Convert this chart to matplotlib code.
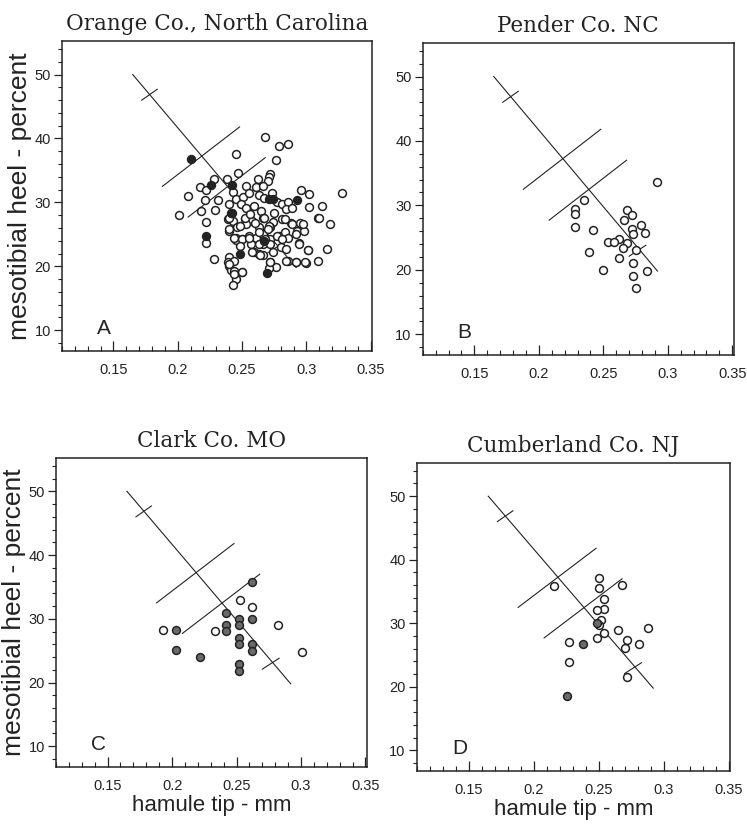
import matplotlib
matplotlib.use("Agg")
import matplotlib.pyplot as plt
from matplotlib.ticker import MultipleLocator

# ------------------------------------------------------------------
# Data (hamule tip in mm, mesotibial heel in percent)
# ------------------------------------------------------------------
# discriminant template drawn in every panel
main_line_x = [0.165, 0.292]
main_line_y = [50.0, 19.8]
cut1_x = [0.188, 0.248]
cut1_y = [32.5, 41.8]
cut2_x = [0.208, 0.268]
cut2_y = [27.7, 37.0]
tick_top_x = [0.172, 0.184]
tick_top_y = [46.0, 47.7]
tick_bot_x = [0.270, 0.283]
tick_bot_y = [22.1, 23.8]

# A: Orange Co., North Carolina
a_open_x = [0.268, 0.279, 0.286, 0.245, 0.276, 0.247, 0.228, 0.238, 0.272, 0.271,
            0.270, 0.262, 0.253, 0.217, 0.222, 0.261, 0.266, 0.208, 0.221, 0.231,
            0.243, 0.245, 0.251, 0.255, 0.263, 0.267, 0.273, 0.277, 0.281, 0.286,
            0.296, 0.302, 0.328, 0.201, 0.218, 0.229, 0.240, 0.249, 0.253, 0.259,
            0.265, 0.275, 0.284, 0.289, 0.302, 0.312, 0.309, 0.222, 0.239, 0.243,
            0.252, 0.258, 0.266, 0.274, 0.281, 0.288, 0.295, 0.318, 0.246, 0.253,
            0.263, 0.272, 0.222, 0.240, 0.245, 0.250, 0.255, 0.261, 0.266, 0.272,
            0.279, 0.283, 0.286, 0.293, 0.298, 0.294, 0.245, 0.257, 0.266, 0.272,
            0.280, 0.284, 0.274, 0.259, 0.263, 0.240, 0.301, 0.316, 0.266, 0.228,
            0.239, 0.244, 0.286, 0.292, 0.300, 0.309, 0.272, 0.276, 0.271, 0.240,
            0.241, 0.250, 0.244, 0.245, 0.243, 0.240, 0.241, 0.248, 0.252, 0.240,
            0.244, 0.250, 0.255, 0.263, 0.268, 0.277, 0.281, 0.263, 0.258, 0.264,
            0.240, 0.244, 0.250, 0.272, 0.284, 0.292, 0.299, 0.301, 0.294, 0.292,
            0.297, 0.310, 0.283, 0.289, 0.271, 0.267, 0.256, 0.260, 0.270, 0.248]
a_open_y = [40.3, 38.8, 39.1, 37.6, 36.7, 34.6, 33.7, 33.7, 34.5, 34.0,
            33.3, 33.6, 32.6, 32.4, 32.0, 32.4, 32.6, 31.0, 30.3, 30.3,
            31.6, 30.6, 30.8, 31.4, 31.2, 30.7, 31.4, 30.0, 29.7, 30.1,
            31.9, 31.3, 31.4, 28.0, 28.7, 28.8, 29.7, 29.7, 29.2, 29.4,
            28.7, 28.3, 28.9, 29.2, 29.3, 29.4, 27.6, 27.0, 27.4, 27.1,
            27.4, 27.1, 27.6, 26.9, 27.4, 26.7, 26.7, 26.6, 26.1, 26.6,
            26.1, 26.1, 23.7, 25.6, 24.5, 24.3, 24.8, 24.5, 25.0, 24.3,
            24.8, 25.3, 24.5, 25.6, 25.6, 23.6, 24.1, 23.5, 23.5, 23.5,
            23.0, 22.7, 22.2, 22.2, 21.9, 21.4, 22.6, 22.7, 21.7, 21.1,
            20.6, 20.9, 20.9, 20.7, 20.5, 20.8, 20.7, 19.9, 19.8, 20.1,
            19.4, 19.1, 19.2, 18.0, 17.0, 27.6, 28.4, 26.3, 27.6, 25.8,
            24.5, 24.3, 24.5, 25.3, 24.3, 24.8, 24.3, 23.5, 22.2, 21.7,
            20.4, 18.8, 19.1, 20.6, 20.9, 20.6, 20.6, 22.5, 23.5, 25.1,
            26.6, 27.6, 27.4, 26.6, 26.3, 27.6, 28.2, 26.8, 25.8, 23.2]
a_fill_x = [0.210, 0.226, 0.2425, 0.271, 0.2925, 0.2425, 0.222, 0.248, 0.269, 0.267, 0.274]
a_fill_y = [36.8, 32.7, 32.7, 30.5, 30.4, 28.4, 24.8, 21.9, 18.9, 24.0, 30.6]

# B: Pender Co. NC
b_open_x = [0.292, 0.235, 0.228, 0.228, 0.228, 0.242, 0.268, 0.272, 0.266, 0.279,
            0.272, 0.282, 0.273, 0.262, 0.254, 0.258, 0.268, 0.265, 0.275, 0.239,
            0.262, 0.273, 0.284, 0.250, 0.273, 0.275]
b_open_y = [33.6, 30.8, 29.4, 28.7, 26.7, 26.1, 29.2, 28.5, 27.8, 26.9,
            26.3, 25.7, 25.5, 24.7, 24.3, 24.3, 24.2, 23.4, 23.0, 22.7,
            21.9, 21.1, 19.8, 19.9, 19.0, 17.1]

# C: Clark Co. MO
c_open_x = [0.253, 0.262, 0.233, 0.193, 0.282, 0.301]
c_open_y = [32.9, 31.9, 28.1, 28.2, 29.0, 24.8]
c_half_x = [0.262, 0.242, 0.252, 0.252, 0.262, 0.242, 0.242, 0.203, 0.252, 0.252,
            0.262, 0.262, 0.203, 0.222, 0.252, 0.252]
c_half_y = [35.8, 30.9, 30.0, 29.1, 30.0, 29.1, 28.1, 28.2, 27.0, 26.0,
            26.0, 24.9, 25.1, 24.0, 22.9, 21.8]

# D: Cumberland Co. NJ
d_open_x = [0.250, 0.250, 0.268, 0.216, 0.254, 0.254, 0.249, 0.252, 0.250, 0.254,
            0.249, 0.265, 0.288, 0.272, 0.281, 0.270, 0.227, 0.227, 0.272]
d_open_y = [37.2, 35.6, 36.0, 35.9, 33.8, 32.3, 32.1, 30.5, 29.7, 28.5,
            27.7, 29.0, 29.3, 27.4, 26.7, 26.1, 27.1, 23.9, 21.5]
d_half_x = [0.249, 0.238, 0.226]
d_half_y = [30.0, 26.8, 18.6]

x_ticks = [0.15, 0.2, 0.25, 0.3, 0.35]
x_tick_labels = ["0.15", "0.2", "0.25", "0.3", "0.35"]
y_ticks = [10, 20, 30, 40, 50]

# ------------------------------------------------------------------
# Figure
# ------------------------------------------------------------------
ink = "#232323"
plt.rcParams["font.family"] = ["Liberation Sans", "DejaVu Sans"]
fig = plt.figure(figsize=(7.47, 8.27), dpi=100)

panels = [
    ("Orange Co., North Carolina", "A", [0.083, 0.576, 0.415, 0.374]),
    ("Pender Co. NC", "B", [0.566, 0.571, 0.416, 0.377]),
    ("Clark Co. MO", "C", [0.075, 0.073, 0.416, 0.373]),
    ("Cumberland Co. NJ", "D", [0.558, 0.068, 0.419, 0.372]),
]

axes = []
for title, letter, rect in panels:
    ax = fig.add_axes(rect)
    ax.set_xlim(0.11, 0.351)
    ax.set_ylim(6.8, 55.2)
    ax.set_xticks(x_ticks)
    ax.set_xticklabels(x_tick_labels)
    ax.set_yticks(y_ticks)
    ax.xaxis.set_minor_locator(MultipleLocator(0.01))
    ax.yaxis.set_minor_locator(MultipleLocator(2))
    ax.tick_params(axis="x", which="both", direction="in", top=False, colors=ink,
                   labelsize=10.5, pad=9)
    ax.tick_params(axis="x", which="major", length=7, width=0.9)
    ax.tick_params(axis="x", which="minor", length=3.5, width=0.8)
    ax.tick_params(axis="y", which="both", direction="out", right=False, colors=ink,
                   labelsize=10.5, pad=2)
    ax.tick_params(axis="y", which="major", length=6, width=0.9)
    ax.tick_params(axis="y", which="minor", length=3, width=0.8)
    for sp in ax.spines.values():
        sp.set_color(ink)
        sp.set_linewidth(1.1)
    ax.set_title(title, family=["DejaVu Serif"], fontsize=15.5, color=ink, pad=8)
    ax.text(0.137, 10.3, letter, fontsize=15, color=ink, ha="left", va="center")

    # template lines
    for lx, ly in [(main_line_x, main_line_y), (cut1_x, cut1_y), (cut2_x, cut2_y),
                   (tick_top_x, tick_top_y), (tick_bot_x, tick_bot_y)]:
        ax.plot(lx, ly, color=ink, lw=0.8, zorder=2)
    axes.append(ax)

ax_a, ax_b, ax_c, ax_d = axes
pt = dict(s=32, linewidths=1.1, edgecolors=ink, zorder=3)

ax_a.scatter(a_open_x, a_open_y, facecolors="white", **pt)
ax_a.scatter(a_fill_x, a_fill_y, facecolors=ink, **pt)
ax_b.scatter(b_open_x, b_open_y, facecolors="white", **pt)
ax_c.scatter(c_open_x, c_open_y, facecolors="white", **pt)
ax_c.scatter(c_half_x, c_half_y, facecolors="#6a6a6a", **pt)
ax_d.scatter(d_open_x, d_open_y, facecolors="white", **pt)
ax_d.scatter(d_half_x, d_half_y, facecolors="#6a6a6a", **pt)

for ax in (ax_a, ax_c):
    ax.set_ylabel("mesotibial heel - percent", fontsize=19, color=ink, labelpad=2)
for ax in (ax_c, ax_d):
    ax.set_xlabel("hamule tip - mm", fontsize=16, color=ink, labelpad=1)

plt.savefig("out.png", dpi=100)
